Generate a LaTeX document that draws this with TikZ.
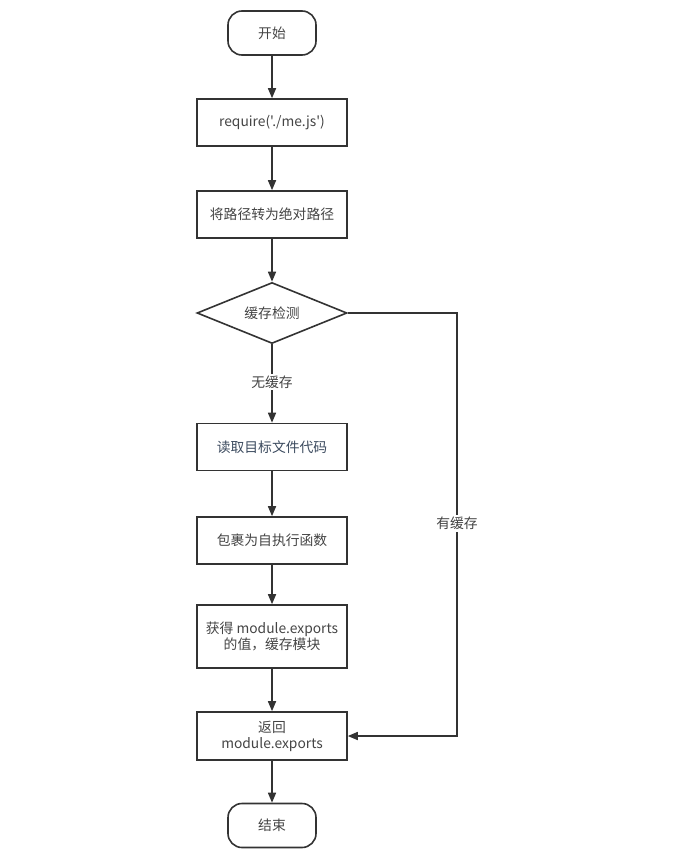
\documentclass[tikz,border=0pt]{standalone}
\usepackage{fontspec}
\setmainfont{Noto Sans CJK SC}
\newfontfamily\plainf{Noto Sans CJK SC}
\usetikzlibrary{arrows.meta,shapes.geometric}
\definecolor{ln}{HTML}{333333}
\definecolor{tx}{HTML}{444444}
\definecolor{tb}{HTML}{3B4A5E}
\begin{document}
\begin{tikzpicture}[x=1pt,y=-1pt,
  every node/.style={font=\fontsize{13.8}{16}\selectfont, text=tx},
  procbox/.style={draw=ln, line width=1.6pt, minimum width=150pt, minimum height=47pt, inner sep=2pt, align=center},
  termbox/.style={draw=ln, line width=1.6pt, rounded corners=14pt, minimum width=88pt, minimum height=44pt},
  decbox/.style={draw=ln, line width=1.6pt, diamond, aspect=2.45, minimum width=150pt, minimum height=61pt, inner sep=0pt},
  flow/.style={draw=ln, line width=1.6pt, -{Triangle[length=10pt,width=8pt]}},
  lbl/.style={fill=white, inner sep=2pt}
]
\useasboundingbox (0,0) rectangle (680,853);
\node[termbox] (start) at (272,33) {开始};
\node[procbox] (req) at (272,122.5) {\plainf require('./me.js')};
\node[procbox] (abs) at (272,214.5) {将路径转为绝对路径};
\node[decbox] (chk) at (272,313) {缓存检测};
\node[procbox, text=tb] (read) at (272,447) {读取目标文件代码};
\node[procbox] (wrap) at (272,540.5) {包裹为自执行函数};
\node[procbox, minimum height=63pt] (get) at (272,636.5) {获得 module.exports\\的值，缓存模块};
\node[procbox, minimum height=48pt] (ret) at (272,736) {返回\\module.exports};
\node[termbox] (end) at (272,825.5) {结束};
\coordinate (c1) at (457,313);
\coordinate (c2) at (457,736);
\draw[flow] (start) -- (req);
\draw[flow] (req) -- (abs);
\draw[flow] (abs) -- (chk);
\draw[flow] (chk) -- node[lbl, pos=0.48] (l1) {无缓存} (read);
\draw[flow] (read) -- (wrap);
\draw[flow] (wrap) -- (get);
\draw[flow] (get) -- (ret);
\draw[flow] (ret) -- (end);
\draw[flow] (chk.east) -- (c1) -- node[lbl, pos=0.497] (l2) {有缓存} (c2) -- (ret.east);
\end{tikzpicture}
\end{document}
